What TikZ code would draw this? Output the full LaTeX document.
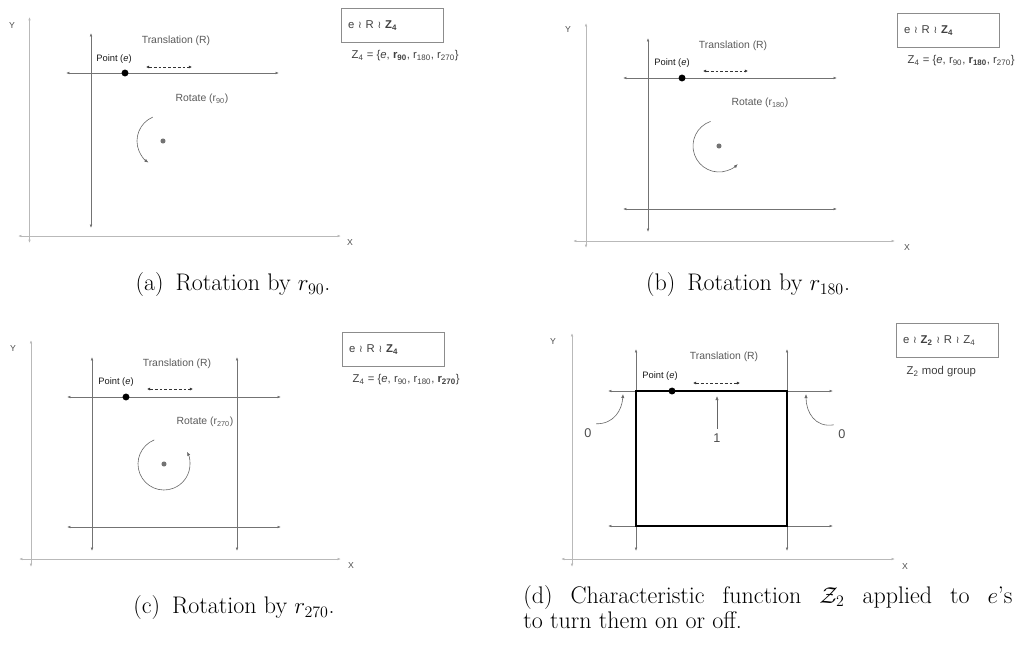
\documentclass[tikz,border=0pt]{standalone}
\usepackage{fontspec}
\newfontfamily\arialfont{Liberation Sans}
\newfontfamily\dejavufont{DejaVu Sans}
\usetikzlibrary{arrows.meta, positioning}

\newcommand{\wrsym}{{\dejavufont\fontsize{7.5}{7.5}\selectfont\char"2240}}

\begin{document}
\begin{tikzpicture}[x=0.75pt, y=-0.75pt,
        tip/.style={{Latex[length=2.6pt,width=2pt]}-{Latex[length=2.6pt,width=2pt]}},
        axis/.style={draw=gray!55, line width=0.7pt, tip},
        guide/.style={draw=black!55, line width=0.45pt, tip},
        slide/.style={draw=black!80, line width=0.45pt, dash pattern=on 2.2pt off 1.4pt,
                      {Latex[length=2.4pt,width=2.4pt,sep=0pt]}-{Latex[length=2.4pt,width=2.4pt,sep=0pt]}},
        spin/.style={draw=black!60, line width=0.45pt, -{Latex[length=3pt,width=2.4pt]}},
        lbl/.style={font=\arialfont\fontsize{7.8}{9}\selectfont, text=black!65},
        ptlbl/.style={font=\arialfont\fontsize{7}{8}\selectfont, text=black!90},
        axlbl/.style={font=\arialfont\fontsize{6.5}{7}\selectfont, text=black!70},
        numlbl/.style={font=\arialfont\fontsize{9.5}{11}\selectfont, text=black!70},
        dot/.style={circle, fill=black, inner sep=0pt, minimum size=5.2pt},
        hub/.style={circle, fill=black!55, inner sep=0pt, minimum size=3.8pt},
        grpbox/.style={draw=black!45, line width=0.5pt, anchor=north west, inner xsep=5pt,
                       text width=66.5pt, minimum height=25.5pt, align=left,
                       font=\arialfont\fontsize{8.5}{10}\selectfont, text=black!75},
        grplbl/.style={anchor=west, font=\arialfont\fontsize{8.5}{10}\selectfont, text=black!75},
        caption/.style={font=\fontsize{18}{18.75}\selectfont}
    ]
    \useasboundingbox (0,0) rectangle (1020,646);

    % (a) rotation by r90
    \node[axlbl] (ya) at (12,26) {Y};
    \node[axlbl] (xa) at (350,243) {X};
    \draw[axis] (29.5,17) -- (29.5,243);
    \draw[axis] (18,236) -- (341,236);
    \draw[guide] (91,33) -- (91,228);
    \draw[guide] (66,73) -- (279,73);
    \node[lbl] (transa) at (176,41) {Translation (R)};
    \node[ptlbl] (pta) at (114,59) {Point (\textit{e})};
    \draw[slide] (146,67) -- (192,67);
    \node[dot] (ea) at (125,73) {};
    \node[lbl] (rota) at (202,99) {Rotate (r\textsubscript{90})};
    \node[hub] (huba) at (163,141) {};
    \draw[spin] ([shift={(247:26)}]huba) arc[start angle=247, end angle=124, radius=26];
    \node[grpbox] (boxa) at (341,8) {e \wrsym\ R \wrsym\ \textbf{Z\textsubscript{4}}};
    \node[grplbl] (grpa) at (347,56) {Z\textsubscript{4} = \{\textit{e}, \textbf{r\textsubscript{90}}, r\textsubscript{180}, r\textsubscript{270}\}};
    \node[caption] (capa) at (233,285) {(a)\enspace Rotation by $r_{90}$.};

    % (b) rotation by r180
    \node[axlbl] (yb) at (568,30) {Y};
    \node[axlbl] (xb) at (907,248) {X};
    \draw[axis] (586,23) -- (586,248);
    \draw[axis] (573,241) -- (895,241);
    \draw[guide] (648,38) -- (648,232);
    \draw[guide] (623,78) -- (837,78);
    \draw[guide] (623,209) -- (837,209);
    \node[lbl] (transb) at (733,46) {Translation (R)};
    \node[ptlbl] (ptb) at (672,63) {Point (\textit{e})};
    \draw[slide] (703,71) -- (748,71);
    \node[dot] (eb) at (682,78) {};
    \node[lbl] (rotb) at (760,103) {Rotate (r\textsubscript{180})};
    \node[hub] (hubb) at (719,146) {};
    \draw[spin] ([shift={(251:26)}]hubb) arc[start angle=251, end angle=44, radius=26];
    \node[grpbox] (boxb) at (897,13) {e \wrsym\ R \wrsym\ \textbf{Z\textsubscript{4}}};
    \node[grplbl] (grpb) at (903,61) {Z\textsubscript{4} = \{\textit{e}, r\textsubscript{90}, \textbf{r\textsubscript{180}}, r\textsubscript{270}\}};
    \node[caption] (capb) at (748,285) {(b)\enspace Rotation by $r_{180}$.};

    % (c) rotation by r270
    \node[axlbl] (yc) at (13,349) {Y};
    \node[axlbl] (xc) at (351,566) {X};
    \draw[axis] (31,340) -- (31,567);
    \draw[axis] (19,559) -- (341,559);
    \draw[guide] (92,357) -- (92,551);
    \draw[guide] (237,357) -- (237,551);
    \draw[guide] (67,397) -- (281,397);
    \draw[guide] (67,527) -- (281,527);
    \node[lbl] (transc) at (177,364) {Translation (R)};
    \node[ptlbl] (ptc) at (116,382) {Point (\textit{e})};
    \draw[slide] (147,389) -- (193,389);
    \node[dot] (ec) at (126,397) {};
    \node[lbl] (rotc) at (205,422) {Rotate (r\textsubscript{270})};
    \node[hub] (hubc) at (164,464) {};
    \draw[spin] ([shift={(248:26)}]hubc) arc[start angle=248, end angle=-28, radius=26];
    \node[grpbox] (boxc) at (342,332) {e \wrsym\ R \wrsym\ \textbf{Z\textsubscript{4}}};
    \node[grplbl] (grpc) at (348,380) {Z\textsubscript{4} = \{\textit{e}, r\textsubscript{90}, r\textsubscript{180}, \textbf{r\textsubscript{270}}\}};
    \node[caption] (capc) at (234,608) {(c)\enspace Rotation by $r_{270}$.};

    % (d) characteristic function
    \node[axlbl] (yd) at (553,342) {Y};
    \node[axlbl] (xd) at (905,567) {X};
    \draw[axis] (572,333) -- (572,567);
    \draw[axis] (561,559) -- (895,559);
    \draw[guide] (636,349) -- (636,551);
    \draw[guide] (787,349) -- (787,551);
    \draw[guide] (608,391) -- (833,391);
    \draw[guide] (608,526) -- (833,526);
    \draw[line width=1.5pt] (636,391) rectangle (787,526);
    \node[lbl] (transd) at (724,357) {Translation (R)};
    \node[ptlbl] (ptd) at (660,376) {Point (\textit{e})};
    \draw[slide] (693,383) -- (740,383);
    \node[dot] (ed) at (672,391) {};
    \node[numlbl] (one) at (717,438) {1};
    \coordinate (onetip) at (717,396);
    \draw[spin] (one.north) -- (onetip);
    \node[numlbl] (zerol) at (588,433) {0};
    \coordinate (zerolt) at (623,394);
    \draw[spin] (zerol.north east) .. controls (614,424) and (622,410) .. (zerolt);
    \node[numlbl] (zeror) at (842,434) {0};
    \coordinate (zerort) at (806,394);
    \draw[spin] (zeror.north west) .. controls (815,428) and (806,412) .. (zerort);
    \node[grpbox] (boxd) at (896,323) {e \wrsym\ \textbf{Z\textsubscript{2}} \wrsym\ R \wrsym\ Z\textsubscript{4}};
    \node[grplbl] (grpd) at (902,372) {Z\textsubscript{2} mod group};
    \node[caption, anchor=north west, text width=367pt, align=justify, inner sep=0pt] (capd) at (523,585)
        {(d) Characteristic function $\mathcal{Z}_2$ applied to $e$'s\linebreak to turn them on or off.};
\end{tikzpicture}
\end{document}
